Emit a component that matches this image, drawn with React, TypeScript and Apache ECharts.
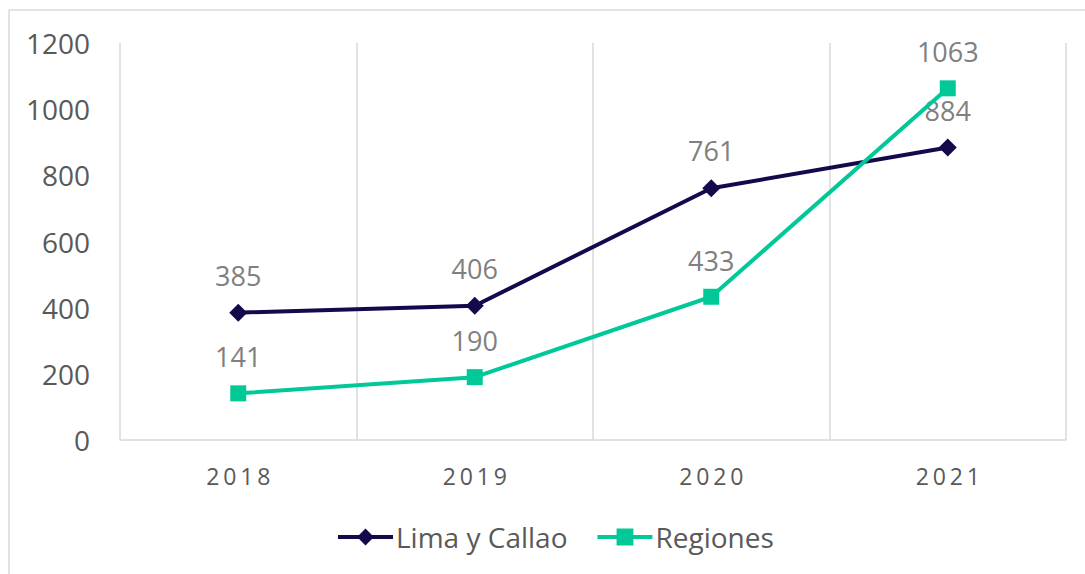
import React, { useEffect, useRef } from "react";
import * as echarts from "echarts";

const categories = ["2018", "2019", "2020", "2021"];
const limaCallao = [385, 406, 761, 884];
const regiones = [141, 190, 433, 1063];
const yTicks = { min: 0, max: 1200, interval: 200 };

const FONT = "'Open Sans', 'Noto Sans', sans-serif";

export default function App() {
  const ref = useRef<HTMLDivElement>(null);
  useEffect(() => {
    if (!ref.current) return;
    const chart = echarts.init(ref.current, null, { renderer: "svg" });
    const labelStyle = {
      show: true,
      position: "top" as const,
      distance: 15,
      color: "#808080",
      fontSize: 27,
      fontFamily: FONT,
    };
    chart.setOption({
      animation: false,
      backgroundColor: "#ffffff",
      grid: { left: 120, right: 19, top: 43, bottom: 134, containLabel: false },
      legend: {
        bottom: 18,
        left: 331,
        itemWidth: 55,
        itemHeight: 21,
        itemGap: 28,
        lineStyle: { width: 4 },
        textStyle: { color: "#595959", fontSize: 28, fontFamily: FONT, padding: [0, 0, 0, -2] },
        data: ["Lima y Callao", "Regiones"],
      },
      xAxis: {
        type: "category",
        data: categories,
        boundaryGap: true,
        axisLine: { show: true, lineStyle: { color: "#d9d9d9", width: 1.5 } },
        axisTick: { show: false },
        splitLine: { show: true, lineStyle: { color: "#d9d9d9", width: 1.5 } },
        axisLabel: {
          color: "#595959",
          fontSize: 23,
          fontFamily: FONT,
          margin: 24,
          formatter: (v: string) => v.split("").join("\u2009"),
        },
      },
      yAxis: {
        type: "value",
        min: yTicks.min,
        max: yTicks.max,
        interval: yTicks.interval,
        axisLine: { show: false },
        axisTick: { show: false },
        splitLine: { show: false },
        axisLabel: {
          color: "#595959",
          fontSize: 28,
          fontFamily: FONT,
          margin: 30,
          formatter: (v: number) => String(v),
        },
      },
      graphic: [
        { type: "line", shape: { x1: 9, y1: 10, x2: 1085, y2: 10 }, style: { stroke: "#d9d9d9", lineWidth: 1.5 } },
        { type: "line", shape: { x1: 9, y1: 10, x2: 9, y2: 574 }, style: { stroke: "#d9d9d9", lineWidth: 1.5 } },
      ],
      series: [
        {
          name: "Lima y Callao",
          type: "line",
          data: limaCallao,
          symbol: "diamond",
          symbolSize: 18,
          lineStyle: { color: "#14094a", width: 4 },
          itemStyle: { color: "#14094a" },
          label: labelStyle,
          z: 2,
        },
        {
          name: "Regiones",
          type: "line",
          data: regiones,
          symbol: "rect",
          symbolSize: 16,
          lineStyle: { color: "#00c896", width: 4 },
          itemStyle: { color: "#00c896" },
          label: labelStyle,
          z: 3,
        },
      ],
    });
    return () => chart.dispose();
  }, []);
  return <div ref={ref} style={{ width: 1085, height: 574, position: "absolute", left: 0, top: 0 }} />;
}
